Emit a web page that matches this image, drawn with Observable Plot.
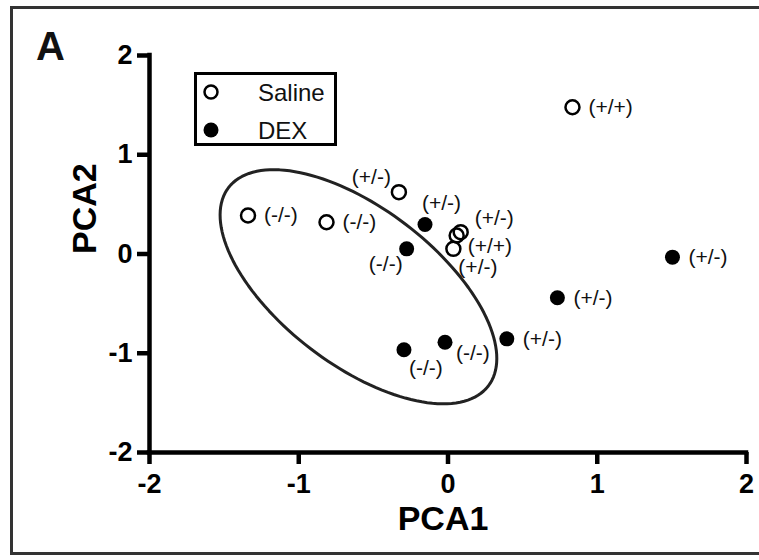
<!DOCTYPE html>
<html>
<head>
<meta charset="utf-8">
<script src="https://cdn.jsdelivr.net/npm/d3@7"></script>
<script src="https://cdn.jsdelivr.net/npm/@observablehq/plot@0.6"></script>
<style>
  body { margin: 0; background: #fff; }
  #wrap { position: relative; width: 759px; height: 560px; overflow: hidden; font-family: "Liberation Sans", Arial, Helvetica, sans-serif; }
  #frame { position: absolute; left: 10px; top: 6px; width: 760px; height: 543px; border: 3px solid #333; border-right: none; }
  #panel { position: absolute; left: 36px; top: 26px; font-size: 40px; line-height: 40px; font-weight: bold; color: #111; }
  #chart { position: absolute; left: 0; top: 0; }
  #legend { position: absolute; left: 0; top: 0; pointer-events: none; }
  g[aria-label$="tick label"] { font-weight: bold; }
  g[aria-label="x-axis tick"], g[aria-label="y-axis tick"] { stroke-width: 4.5px; }
  g[aria-label="x-axis tick"] path, g[aria-label="y-axis tick"] path { stroke-width: 4.5px; }
</style>
</head>
<body>
<div id="wrap">
  <div id="frame"></div>
  <div id="chart"></div>
  <div id="panel">A</div>
  <svg id="legend" width="759" height="560"></svg>
</div>
<script>
// ---- data ----
const salineX = [-1.34, -0.814, -0.329, 0.834, 0.085, 0.058, 0.036];
const salineY = [0.388, 0.32, 0.623, 1.479, 0.22, 0.186, 0.052];
const salineLabel = ["(-/-)", "(-/-)", "(+/-)", "(+/+)", "(+/-)", "(+/+)", "(+/-)"];
const salinePlace = ["right", "right", "upleft", "right", "upright", "rightdown", "belowright"];

const dexX = [-0.154, -0.277, -0.295, -0.02, 0.394, 0.733, 1.504];
const dexY = [0.297, 0.052, -0.965, -0.889, -0.855, -0.441, -0.032];
const dexLabel = ["(+/-)", "(-/-)", "(-/-)", "(-/-)", "(+/-)", "(+/-)", "(+/-)"];
const dexPlace = ["above", "belowleft", "belowright", "rightdown", "right", "right", "right"];

const xTicks = [-2, -1, 0, 1, 2];
const xTickLabels = ["-2", "-1", "0", "1", "2"];
const yTicks = [-2, -1, 0, 1, 2];
const yTickLabels = ["-2", "-1", "0", "1", "2"];

const seriesNames = ["Saline", "DEX"];

// ellipse (data units): center and two conjugate semi-axis vectors
const ellipseCenter = [-0.6, -0.33];
const ellipseAxisA = [0.87, -1.0];
const ellipseAxisB = [-0.32, -0.625];

// ---- build tables ----
const saline = salineX.map((x, i) => ({x, y: salineY[i], label: salineLabel[i], place: salinePlace[i]}));
const dex = dexX.map((x, i) => ({x, y: dexY[i], label: dexLabel[i], place: dexPlace[i]}));
const all = saline.concat(dex);

const ellipse = d3.range(0, 145).map(i => {
  const t = 2 * Math.PI * i / 144;
  return {
    x: ellipseCenter[0] + ellipseAxisA[0] * Math.cos(t) + ellipseAxisB[0] * Math.sin(t),
    y: ellipseCenter[1] + ellipseAxisA[1] * Math.cos(t) + ellipseAxisB[1] * Math.sin(t)
  };
});

// label placement styles
const placements = {
  right:      {dx: 16,  dy: 0,   textAnchor: "start"},
  upleft:     {dx: -8,  dy: -15, textAnchor: "end"},
  upright:    {dx: 14,  dy: -14, textAnchor: "start"},
  rightdown:  {dx: 11,  dy: 11,  textAnchor: "start"},
  belowright: {dx: 5,   dy: 18,  textAnchor: "start"},
  above:      {dx: -3,  dy: -21, textAnchor: "start"},
  belowleft:  {dx: -4,  dy: 15,  textAnchor: "end"}
};

const labelMarks = Object.entries(placements).map(([name, p]) =>
  Plot.text(all.filter(d => d.place === name), {
    x: "x", y: "y", text: "label",
    dx: p.dx, dy: p.dy, textAnchor: p.textAnchor,
    fontSize: 21, fill: "#111"
  })
);

const chart = Plot.plot({
  width: 759,
  height: 560,
  marginLeft: 149,
  marginRight: 13,
  marginTop: 55,
  marginBottom: 108,
  x: {domain: [-2, 2]},
  y: {domain: [-2, 2]},
  style: {fontFamily: "'Liberation Sans', Arial, Helvetica, sans-serif", background: "transparent", color: "#000", overflow: "visible"},
  marks: [
    Plot.line(ellipse, {x: "x", y: "y", stroke: "#222", strokeWidth: 3}),
    Plot.dot(saline, {x: "x", y: "y", r: 7, stroke: "#000", strokeWidth: 2.5, fill: "none"}),
    Plot.dot(dex, {x: "x", y: "y", r: 7.5, fill: "#000", stroke: "none"}),
    ...labelMarks,
    Plot.axisX(xTicks, {tickSize: 12, tickPadding: 9, strokeWidth: 4.5, fontSize: 27, fontWeight: "bold", label: null, tickFormat: d => xTickLabels[xTicks.indexOf(d)]}),
    Plot.axisY(yTicks, {tickSize: 12, tickPadding: 5, strokeWidth: 4.5, fontSize: 27, fontWeight: "bold", label: null, tickFormat: d => yTickLabels[yTicks.indexOf(d)]}),
    Plot.ruleY([-2], {strokeWidth: 4.5, stroke: "#000", strokeLinecap: "square"}),
    Plot.ruleX([-2], {strokeWidth: 4.5, stroke: "#000", strokeLinecap: "square"}),
    Plot.text(["PCA1"], {frameAnchor: "bottom", dy: 77, dx: -5, fontSize: 34, fontWeight: "bold", fill: "#000"}),
    Plot.text(["PCA2"], {frameAnchor: "left", dx: -64, rotate: -90, fontSize: 34, fontWeight: "bold", fill: "#000"})
  ]
});
document.getElementById("chart").appendChild(chart);

// ---- legend (inside plot area, top-left) ----
const lg = d3.select("#legend");
lg.append("rect").attr("x", 195.5).attr("y", 73.5).attr("width", 140).attr("height", 71)
  .attr("fill", "white").attr("stroke", "#000").attr("stroke-width", 3);
const legendRows = [
  {name: seriesNames[0], open: true, cy: 92},
  {name: seriesNames[1], open: false, cy: 130}
];
legendRows.forEach(r => {
  lg.append("circle").attr("cx", 211).attr("cy", r.cy).attr("r", r.open ? 6.5 : 7.5)
    .attr("fill", r.open ? "none" : "#000").attr("stroke", r.open ? "#000" : "none").attr("stroke-width", 2.5);
  lg.append("text").attr("x", 258).attr("y", r.cy + 8.5).attr("font-size", 24)
    .attr("font-family", "'Liberation Sans', Arial, sans-serif").attr("fill", "#111").text(r.name);
});
</script>
</body>
</html>
